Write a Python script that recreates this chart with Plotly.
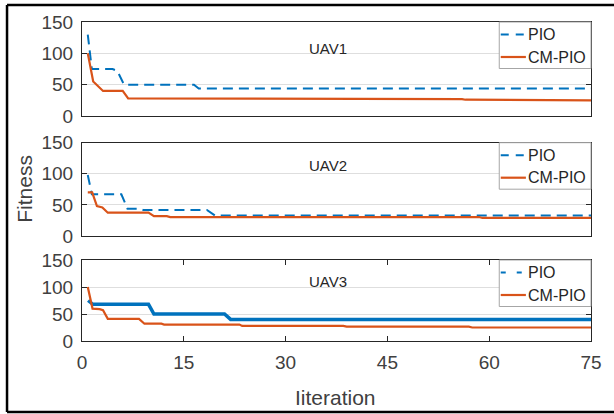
import plotly.graph_objects as go

# ---- data (iteration breakpoints, fitness values) ----
uav1_pio_x = [0.85, 1.45, 4.5, 5.2, 6.2, 16.5, 17.2, 75]
uav1_pio_y = [130, 75, 75, 72, 50, 50, 44, 44]
uav1_cm_x = [0.85, 1.65, 3.1, 6.0, 6.8, 35.5, 36.0, 56.0, 56.5, 59.0, 59.5, 75]
uav1_cm_y = [100, 55, 40, 40, 28, 28, 27, 27, 26, 26, 25, 25]

uav2_pio_x = [0.85, 1.45, 5.8, 6.7, 8.5, 9.0, 18.4, 19.6, 75]
uav2_pio_y = [98, 67, 67, 44, 44, 42, 42, 33, 33]
uav2_cm_x = [0.85, 1.5, 2.2, 3.0, 3.8, 9.8, 10.6, 12.5, 13.0, 58.5, 59.0, 75]
uav2_cm_y = [70, 70, 48, 46, 37.5, 37.5, 32, 32, 30.5, 30.5, 29, 29]

uav3_pio_x = [0.9, 1.6, 9.8, 10.6, 21.0, 21.9, 75]
uav3_pio_y = [75, 68, 68, 50, 50, 40, 40]
uav3_cm_x = [0.85, 1.55, 2.6, 3.1, 3.8, 8.4, 9.2, 11.7, 12.1, 23.2, 23.6, 38.5, 39.0, 57.0, 57.5, 75]
uav3_cm_y = [100, 60, 59, 57, 41, 41, 32, 32, 30.5, 30.5, 28, 28, 26.5, 26.5, 25, 25]

panel_titles = ["UAV1", "UAV2", "UAV3"]
series_names = ["PIO", "CM-PIO"]
x_ticks = [0, 15, 30, 45, 60, 75]
y_ticks = [0, 50, 100, 150]

BLUE = "#0072BD"
RED = "#D95319"
FONT = "Liberation Sans"
W, H = 614, 414
ML, MR, MT, MB = 82, 16, 22, 73
PW, PH = W - ML - MR, H - MT - MB

def py(p):  # pixel y -> paper y
    return (H - MB - p) / PH

def px(p):
    return (p - ML) / PW

panel_top = [22, 142.7, 260]
panel_bot = [116, 236, 341]
domains = [(py(b), py(t)) for t, b in zip(panel_top, panel_bot)]

fig = go.Figure()
data = [
    (uav1_pio_x, uav1_pio_y, uav1_cm_x, uav1_cm_y),
    (uav2_pio_x, uav2_pio_y, uav2_cm_x, uav2_cm_y),
    (uav3_pio_x, uav3_pio_y, uav3_cm_x, uav3_cm_y),
]
pio_dash = ["10px,6px", "10px,6px", None]
for i, (pxs, pys, cxs, cys) in enumerate(data):
    sfx = "" if i == 0 else str(i + 1)
    if pio_dash[i]:
        pline = dict(color=BLUE, width=2, dash=pio_dash[i])
    else:
        pline = dict(color=BLUE, width=3.5)
    fig.add_trace(go.Scatter(x=pxs, y=pys, mode="lines", name=series_names[0],
                             line=pline, xaxis="x" + sfx, yaxis="y" + sfx, showlegend=False))
    fig.add_trace(go.Scatter(x=cxs, y=cys, mode="lines", name=series_names[1],
                             line=dict(color=RED, width=2.2),
                             xaxis="x" + sfx, yaxis="y" + sfx, showlegend=False))

axcol = "#262626"
tickfont = dict(family=FONT, size=19, color="#404040")
layout = dict(
    width=W, height=H,
    margin=dict(l=ML, r=MR, t=MT, b=MB),
    paper_bgcolor="white", plot_bgcolor="white",
    font=dict(family=FONT, color="#262626"),
    showlegend=False,
)
for i in range(3):
    sfx = "" if i == 0 else str(i + 1)
    last = i == 2
    layout["xaxis" + sfx] = dict(
        domain=[0, 1], range=[0, 75], anchor="y" + sfx,
        showline=True, linecolor=axcol, linewidth=1, mirror="ticks" if last else True,
        showgrid=False, zeroline=False,
        tickvals=x_ticks if last else [], ticks="inside" if last else "",
        ticklen=5, tickcolor=axcol, showticklabels=last, tickfont=tickfont,
        ticklabelstandoff=4,
    )
    layout["yaxis" + sfx] = dict(
        domain=list(domains[i]), range=[0, 150], anchor="x" + sfx,
        showline=True, linecolor=axcol, linewidth=1, mirror="ticks",
        showgrid=True, gridcolor="#dedede", gridwidth=1, zeroline=False,
        tickvals=y_ticks, ticks="inside", ticklen=5, tickcolor=axcol,
        tickfont=tickfont, ticklabelstandoff=4,
    )
fig.update_layout(**layout)

annots = []
shapes = []
ytitle = [108, 113, 110]
legfont = dict(family=FONT, size=16, color="#262626")
leg_sample_dash = ["8px,7px", "8px,7px", "5px,11px"]
for i in range(3):
    sfx = "" if i == 0 else str(i + 1)
    annots.append(dict(text=panel_titles[i], x=36.2, y=ytitle[i], xref="x" + sfx, yref="y" + sfx,
                       showarrow=False, font=dict(family=FONT, size=15, color="#262626"),
                       xanchor="center", yanchor="middle"))
    # legend box
    T = panel_top[i]
    shapes.append(dict(type="rect", xref="paper", yref="paper",
                       x0=px(505), x1=px(598), y0=py(T + 46.5), y1=py(T),
                       line=dict(color="#a6a6a6", width=1), fillcolor="white", layer="above"))
    rows = [T + 12.5, T + 35]
    shapes.append(dict(type="line", xref="paper", yref="paper",
                       x0=px(506.5), x1=px(532), y0=py(rows[0]), y1=py(rows[0]),
                       line=dict(color=BLUE, width=2, dash=leg_sample_dash[i]), layer="above"))
    shapes.append(dict(type="line", xref="paper", yref="paper",
                       x0=px(506.5), x1=px(532), y0=py(rows[1]), y1=py(rows[1]),
                       line=dict(color=RED, width=2.2), layer="above"))
    for r, name in zip(rows, series_names):
        annots.append(dict(text=name, x=px(532), y=py(r), xref="paper", yref="paper",
                           showarrow=False, font=legfont, xanchor="left", yanchor="middle"))
annots.append(dict(text="Fitness", x=px(23), y=py(189), xref="paper", yref="paper",
                   showarrow=False, textangle=-90, font=dict(family=FONT, size=21, color="#404040"),
                   xanchor="center", yanchor="middle"))
annots.append(dict(text="Iiteration", x=px(339), y=py(397), xref="paper", yref="paper",
                   showarrow=False, font=dict(family=FONT, size=21, color="#404040"),
                   xanchor="center", yanchor="middle"))

# outer frame (left, top, bottom edges visible)
for (x0, y0, x1, y1) in [(6, 5, 6, 412), (6, 5, 630, 5), (6, 412, 630, 412)]:
    shapes.append(dict(type="line", xref="paper", yref="paper",
                       x0=px(x0), x1=px(x1), y0=py(y0), y1=py(y1),
                       line=dict(color="black", width=2.5), layer="above"))
fig.update_layout(annotations=annots, shapes=shapes)

fig.write_html("out.html")
